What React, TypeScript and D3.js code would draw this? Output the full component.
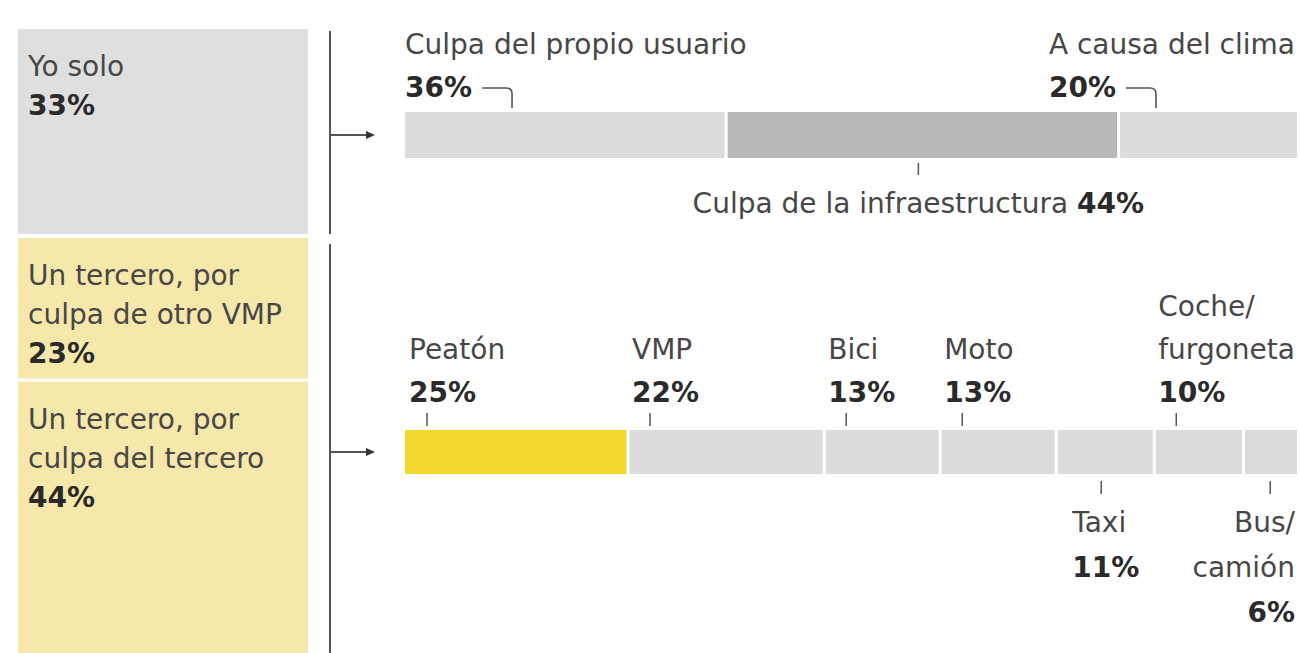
import React, { useEffect, useRef } from "react";
import * as d3 from "d3";

// ---- data ----
const responsibleLabels: string[][] = [
  ["Yo solo"],
  ["Un tercero, por", "culpa de otro VMP"],
  ["Un tercero, por", "culpa del tercero"],
];
const responsibleValues = [33, 23, 44];

const causeLabels = ["Culpa del propio usuario", "Culpa de la infraestructura", "A causa del clima"];
const causeValues = [36, 44, 20];

const vehicleLabels: string[][] = [
  ["Peatón"],
  ["VMP"],
  ["Bici"],
  ["Moto"],
  ["Taxi"],
  ["Coche/", "furgoneta"],
  ["Bus/", "camión"],
];
const vehicleValues = [25, 22, 13, 13, 11, 10, 6];
const vehicleLabelSide = ["above", "above", "above", "above", "below", "above", "below"];

// ---- styling ----
const W = 1300;
const H = 653;
const FONT = "'DejaVu Sans', sans-serif";
const FS = 28;
const TEXT = "#474747";
const BOLD = "#2a2a2a";
const LINE = "#555555";
const GRAY_BOX = "#dfdfe0";
const YELLOW_BOX = "#f6e8ab";
const LIGHT = "#dcdcdd";
const DARK = "#b9b9b9";
const YELLOW = "#f2d92f";

export default function App() {
  const ref = useRef<SVGSVGElement>(null);

  useEffect(() => {
    const svg = d3.select(ref.current);
    svg.selectAll("*").remove();
    const fmt = (v: number) => `${v}%`;

    // ---------- left stacked column ----------
    const stackY = d3.scaleLinear().domain([0, 100]).range([29, 656]);
    const cumR = Array.from(d3.cumsum(responsibleValues));
    const leftColors = [GRAY_BOX, YELLOW_BOX, YELLOW_BOX];
    responsibleValues.forEach((v, i) => {
      const s = cumR[i] - v;
      const y0 = stackY(s) + (i === 0 ? 0 : i === 1 ? 2 : 1.5);
      const y1 = stackY(cumR[i]) - (i === 0 ? 2 : i === 1 ? 1.5 : 0);
      svg.append("rect").attr("x", 18).attr("y", y0).attr("width", 290).attr("height", y1 - y0).attr("fill", leftColors[i]);
      const t = svg.append("text").attr("font-family", FONT).attr("font-size", FS).attr("fill", TEXT);
      const lines = responsibleLabels[i];
      lines.forEach((l, j) => t.append("tspan").attr("x", 28).attr("y", y0 + 47 + j * 39).text(l));
      t.append("tspan")
        .attr("x", 28)
        .attr("y", y0 + 47 + lines.length * 39)
        .attr("font-weight", "bold")
        .attr("fill", BOLD)
        .text(fmt(v));
    });

    // vertical bracket lines
    svg.append("line").attr("x1", 330).attr("x2", 330).attr("y1", stackY(0) + 2).attr("y2", stackY(33) - 2)
      .attr("stroke", LINE).attr("stroke-width", 2);
    svg.append("line").attr("x1", 330).attr("x2", 330).attr("y1", stackY(33) + 8).attr("y2", H)
      .attr("stroke", LINE).attr("stroke-width", 2);

    // ---------- horizontal bars ----------
    const barX = d3.scaleLinear().domain([0, 100]).range([405, 1297]);
    const topY = 112, topH = 46;
    const botY = 430, botH = 44;

    const arrow = (y: number) => {
      svg.append("line").attr("x1", 330).attr("x2", 368).attr("y1", y).attr("y2", y).attr("stroke", LINE).attr("stroke-width", 2);
      svg.append("path").attr("d", `M366,${y - 4} L375,${y} L366,${y + 4} Z`).attr("fill", "#333");
    };
    arrow(topY + topH / 2);
    arrow(botY + botH / 2);

    const drawBar = (vals: number[], y: number, h: number, colors: string[]) => {
      const cum = Array.from(d3.cumsum(vals));
      return vals.map((v, i) => {
        const s = cum[i] - v;
        const x0 = barX(s) + (i > 0 ? 1.5 : 0);
        const x1 = barX(cum[i]) - (i < vals.length - 1 ? 1.5 : 0);
        svg.append("rect").attr("x", x0).attr("y", y).attr("width", x1 - x0).attr("height", h).attr("fill", colors[i]);
        return { x0: barX(s), x1: barX(cum[i]) };
      });
    };

    const topSegs = drawBar(causeValues, topY, topH, [LIGHT, DARK, LIGHT]);
    const botSegs = drawBar(vehicleValues, botY, botH, vehicleValues.map((_, i) => (i === 0 ? YELLOW : LIGHT)));

    const text = (x: number, y: number, str: string, bold = false, anchor = "start") =>
      svg.append("text")
        .attr("x", x).attr("y", y)
        .attr("font-family", FONT).attr("font-size", FS)
        .attr("font-weight", bold ? "bold" : "normal")
        .attr("fill", bold ? BOLD : TEXT)
        .attr("text-anchor", anchor)
        .text(str);

    const tick = (x: number, y1: number, y2: number) =>
      svg.append("line").attr("x1", x).attr("x2", x).attr("y1", y1).attr("y2", y2).attr("stroke", LINE).attr("stroke-width", 1.5);

    const bracket = (x0: number, x1: number, y: number, yEnd: number) => {
      const r = 6;
      svg.append("path")
        .attr("d", `M${x0},${y} H${x1 - r} Q${x1},${y} ${x1},${y + r} V${yEnd}`)
        .attr("fill", "none").attr("stroke", LINE).attr("stroke-width", 1.6);
    };

    // top bar labels
    causeValues.forEach((v, i) => {
      const seg = topSegs[i];
      const pctY = topY - 15;
      const titleY = pctY - 43;
      if (i === 1) {
        const cx = (seg.x0 + seg.x1) / 2 - 4;
        tick(cx, topY + topH + 5, topY + topH + 17);
        const t = svg.append("text")
          .attr("x", cx).attr("y", topY + topH + 55)
          .attr("font-family", FONT).attr("font-size", FS).attr("fill", TEXT)
          .attr("text-anchor", "middle");
        t.append("tspan").text(causeLabels[i] + " ");
        t.append("tspan").attr("font-weight", "bold").attr("fill", BOLD).text(fmt(v));
        return;
      }
      let startX = seg.x0;
      if (i === causeValues.length - 1) {
        const tt = text(barX(100) - 2, titleY, causeLabels[i], false, "end");
        const w = (tt.node() as SVGTextElement).getComputedTextLength();
        startX = barX(100) - 2 - w;
      } else {
        text(startX, titleY, causeLabels[i]);
      }
      const p = text(startX, pctY, fmt(v), true);
      const pw = (p.node() as SVGTextElement).getComputedTextLength();
      bracket(startX + pw + 10, startX + pw + 40, pctY - 9, topY - 4);
    });

    // bottom bar labels
    vehicleValues.forEach((v, i) => {
      const seg = botSegs[i];
      const lines = vehicleLabels[i];
      if (vehicleLabelSide[i] === "above") {
        const tx = seg.x0 + 22;
        tick(tx, botY - 17, botY - 4);
        const pctY = botY - 28;
        text(seg.x0 + 4, pctY, fmt(v), true);
        lines.forEach((l, j) => text(seg.x0 + 4, pctY - 43 * (lines.length - j), l));
      } else {
        const isLast = i === vehicleValues.length - 1;
        const tx = (seg.x0 + seg.x1) / 2 - (isLast ? 0 : 4);
        tick(tx, botY + botH + 7, botY + botH + 20);
        const baseY = botY + botH + 58;
        const ax = isLast ? barX(100) - 2 : tx - 29;
        const anchor = isLast ? "end" : "start";
        lines.forEach((l, j) => text(ax, baseY + 45 * j, l, false, anchor));
        text(ax, baseY + 45 * lines.length, fmt(v), true, anchor);
      }
    });
  }, []);

  return (
    <svg
      ref={ref}
      width={W}
      height={H}
      viewBox={`0 0 ${W} ${H}`}
      style={{ position: "absolute", left: 0, top: 0, display: "block", background: "#ffffff" }}
    />
  );
}
